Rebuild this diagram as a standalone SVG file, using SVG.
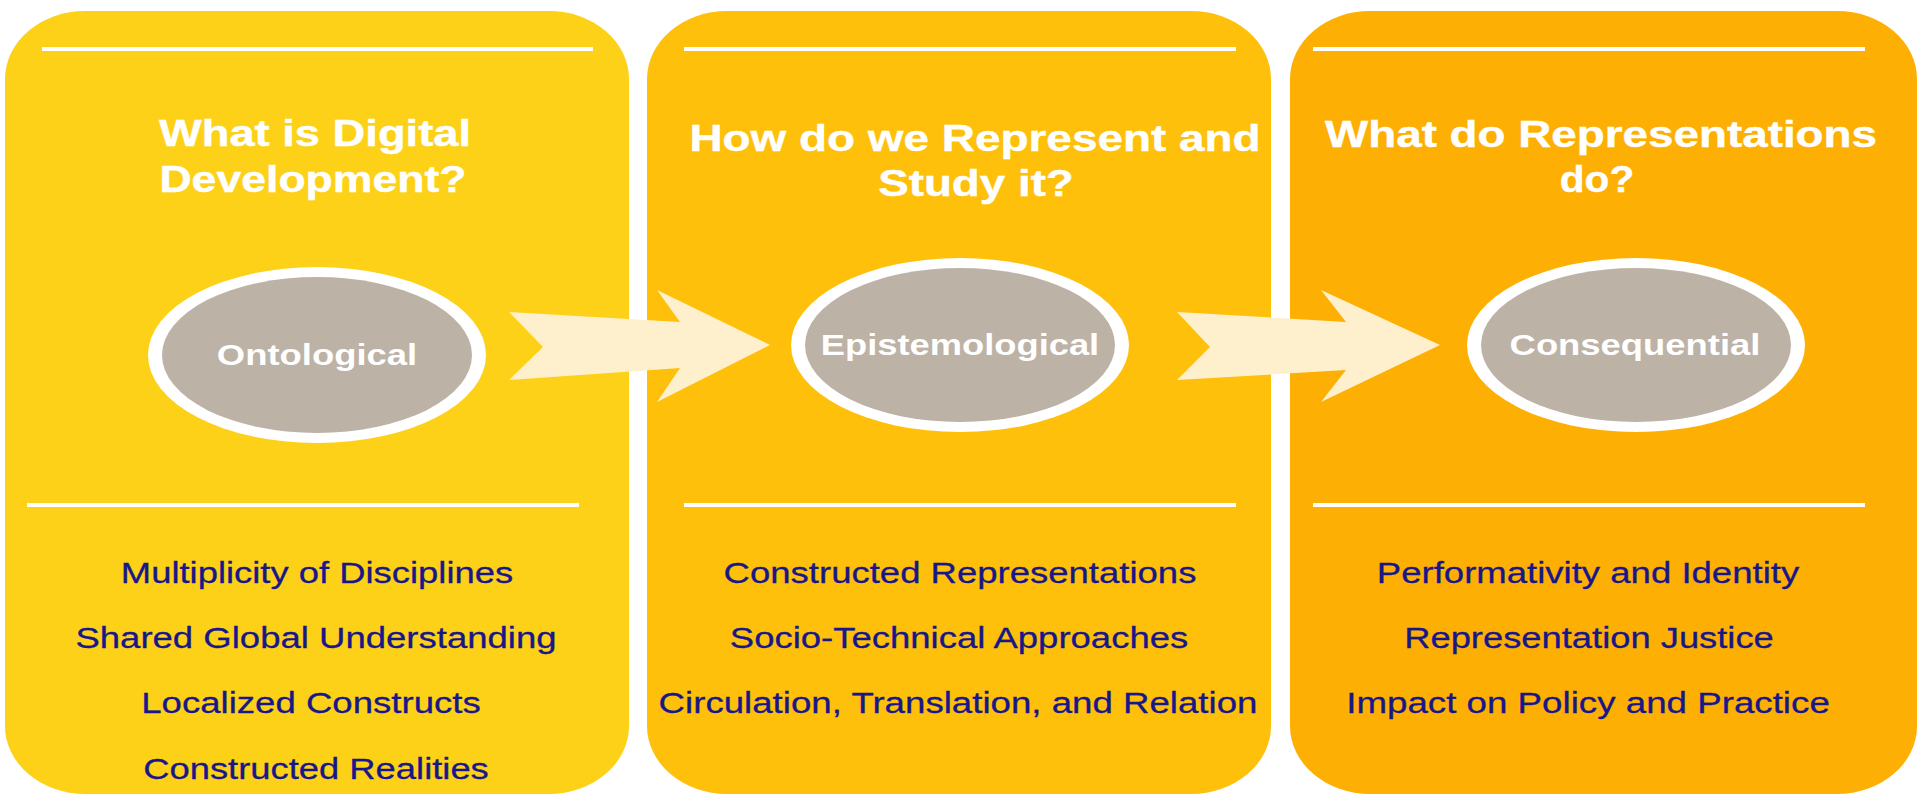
<svg xmlns="http://www.w3.org/2000/svg" width="1926" height="805" viewBox="0 0 1926 805">
<defs>
<style>
.panel{stroke:none}
.rule{stroke:#ffffff;stroke-width:4}
.title{font-family:"Liberation Sans",Arial,sans-serif;font-weight:bold;font-size:37px;fill:#ffffff;text-anchor:middle;stroke:#ffffff;stroke-width:0.4}
.ring{fill:#ffffff}
.oval{fill:#bdb2a6}
.label{font-family:"Liberation Sans",Arial,sans-serif;font-weight:bold;font-size:30px;fill:#ffffff;text-anchor:middle}
.item{font-family:"Liberation Sans",Arial,sans-serif;font-size:30px;fill:#17178a;text-anchor:middle;stroke:#17178a;stroke-width:0.3}
.arrow{fill:#fef0cd;stroke:none}
</style>
</defs>
<rect width="1926" height="805" fill="#ffffff"/>

<g id="panel-ontological">
<rect class="panel" x="5" y="11" width="624" height="783" rx="80" ry="68" fill="#fdd118"/>
<line class="rule" x1="42" y1="49" x2="593" y2="49"/>
<text class="title" transform="translate(315,146) scale(1.2,1)" textLength="260" lengthAdjust="spacingAndGlyphs">What is Digital</text>
<text class="title" transform="translate(313,192) scale(1.2,1)" textLength="256" lengthAdjust="spacingAndGlyphs">Development?</text>
<line class="rule" x1="27" y1="505" x2="579" y2="505"/>
<text class="item" transform="translate(317,583) scale(1.2,1)" textLength="327" lengthAdjust="spacingAndGlyphs">Multiplicity of Disciplines</text>
<text class="item" transform="translate(316,648) scale(1.2,1)" textLength="401" lengthAdjust="spacingAndGlyphs">Shared Global Understanding</text>
<text class="item" transform="translate(311,713) scale(1.2,1)" textLength="283" lengthAdjust="spacingAndGlyphs">Localized Constructs</text>
<text class="item" transform="translate(316,779) scale(1.2,1)" textLength="288" lengthAdjust="spacingAndGlyphs">Constructed Realities</text>
</g>

<g id="panel-epistemological">
<rect class="panel" x="647" y="11" width="624" height="783" rx="80" ry="68" fill="#fec00a"/>
<line class="rule" x1="684" y1="49" x2="1236" y2="49"/>
<text class="title" transform="translate(975,151) scale(1.2,1)" textLength="476" lengthAdjust="spacingAndGlyphs">How do we Represent and</text>
<text class="title" transform="translate(976,196) scale(1.2,1)" textLength="163" lengthAdjust="spacingAndGlyphs">Study it?</text>
<line class="rule" x1="684" y1="505" x2="1236" y2="505"/>
<text class="item" transform="translate(960,583) scale(1.2,1)" textLength="394" lengthAdjust="spacingAndGlyphs">Constructed Representations</text>
<text class="item" transform="translate(959,648) scale(1.2,1)" textLength="382" lengthAdjust="spacingAndGlyphs">Socio-Technical Approaches</text>
<text class="item" transform="translate(958,713) scale(1.2,1)" textLength="499" lengthAdjust="spacingAndGlyphs">Circulation, Translation, and Relation</text>
</g>

<g id="panel-consequential">
<rect class="panel" x="1290" y="11" width="627" height="783" rx="80" ry="68" fill="#feaf04"/>
<line class="rule" x1="1313" y1="49" x2="1865" y2="49"/>
<text class="title" transform="translate(1601,147) scale(1.2,1)" textLength="460" lengthAdjust="spacingAndGlyphs">What do Representations</text>
<text class="title" transform="translate(1597,192) scale(1.2,1)" textLength="62" lengthAdjust="spacingAndGlyphs">do?</text>
<line class="rule" x1="1313" y1="505" x2="1865" y2="505"/>
<text class="item" transform="translate(1588,583) scale(1.2,1)" textLength="352" lengthAdjust="spacingAndGlyphs">Performativity and Identity</text>
<text class="item" transform="translate(1589,648) scale(1.2,1)" textLength="308" lengthAdjust="spacingAndGlyphs">Representation Justice</text>
<text class="item" transform="translate(1588,713) scale(1.2,1)" textLength="403" lengthAdjust="spacingAndGlyphs">Impact on Policy and Practice</text>
</g>

<g id="connectors">
<polygon class="arrow" points="509,312 680,322 657,290 770,345 657,402 680,368 509,380 543,347"/>
<polygon class="arrow" points="1177,312 1346,322 1321,290 1440,345 1321,402 1346,370 1177,380 1210,347"/>
</g>

<g id="node-ontological">
<ellipse class="ring" cx="317" cy="355" rx="169" ry="88"/>
<ellipse class="oval" cx="317" cy="355" rx="155" ry="78"/>
<text class="label" transform="translate(317,365) scale(1.2,1)" textLength="167" lengthAdjust="spacingAndGlyphs">Ontological</text>
</g>
<g id="node-epistemological">
<ellipse class="ring" cx="960" cy="345" rx="169" ry="87"/>
<ellipse class="oval" cx="960" cy="345" rx="155" ry="77"/>
<text class="label" transform="translate(960,355) scale(1.2,1)" textLength="232" lengthAdjust="spacingAndGlyphs">Epistemological</text>
</g>
<g id="node-consequential">
<ellipse class="ring" cx="1636" cy="345" rx="169" ry="87"/>
<ellipse class="oval" cx="1636" cy="345" rx="155" ry="77"/>
<text class="label" transform="translate(1635,355) scale(1.2,1)" textLength="209" lengthAdjust="spacingAndGlyphs">Consequential</text>
</g>
</svg>
